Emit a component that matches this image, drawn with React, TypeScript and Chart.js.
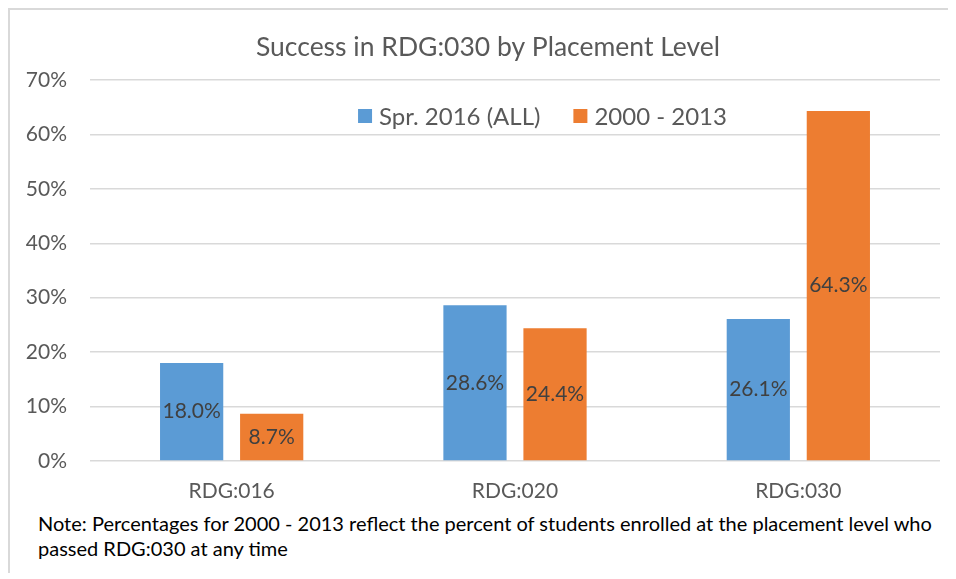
import React, { useEffect, useRef } from "react";
import { Chart, registerables } from "chart.js";

Chart.register(...registerables);

const categories = ["RDG:016", "RDG:020", "RDG:030"];
const seriesNames = ["Spr. 2016 (ALL)", "2000 - 2013"];
const spr2016 = [18.0, 28.6, 26.1];
const y2000_2013 = [8.7, 24.4, 64.3];
const seriesColors = ["#5B9BD5", "#ED7D31"];
const titleText = "Success in RDG:030 by Placement Level";
const noteLines = [
  "Note: Percentages for 2000 - 2013 reflect the percent of students enrolled at the placement level who",
  "passed RDG:030 at any time",
];

const FONT = "Lato, 'Open Sans', sans-serif";

const titlePlugin = {
  id: "customTitle",
  afterDraw(chart: any) {
    const ctx = chart.ctx;
    ctx.save();
    ctx.font = `26.5px ${FONT}`;
    ctx.fillStyle = "#595959";
    ctx.textAlign = "center";
    ctx.textBaseline = "middle";
    ctx.fillText(titleText, 478, 37);
    ctx.restore();
  },
};

const dataLabelPlugin = {
  id: "dataLabels",
  afterDatasetsDraw(chart: any) {
    const ctx = chart.ctx;
    ctx.save();
    ctx.font = `21px ${FONT}`;
    ctx.fillStyle = "#404040";
    ctx.textAlign = "center";
    ctx.textBaseline = "middle";
    chart.data.datasets.forEach((ds: any, di: number) => {
      const meta = chart.getDatasetMeta(di);
      meta.data.forEach((bar: any, i: number) => {
        const v = ds.data[i];
        const y = (bar.y + bar.base) / 2;
        ctx.fillText(v.toFixed(1) + "%", bar.x, y);
      });
    });
    ctx.restore();
  },
};

const legendPlugin = {
  id: "innerLegend",
  afterDraw(chart: any) {
    const ctx = chart.ctx;
    const area = chart.chartArea;
    ctx.save();
    ctx.font = `24px ${FONT}`;
    ctx.textBaseline = "middle";
    ctx.textAlign = "left";
    const box = 14;
    const gapBoxText = 7;
    const gapItems = 33;
    const widths = seriesNames.map((n) => ctx.measureText(n).width);
    const total =
      widths.reduce((a: number, b: number) => a + b, 0) +
      seriesNames.length * (box + gapBoxText) +
      gapItems * (seriesNames.length - 1);
    const cx = area.left + 452.5;
    let x = cx - total / 2;
    const y = area.top + 36;
    seriesNames.forEach((n, i) => {
      ctx.fillStyle = seriesColors[i];
      ctx.fillRect(x, y - box / 2, box, box);
      x += box + gapBoxText;
      ctx.fillStyle = "#595959";
      ctx.fillText(n, x, y + 1);
      x += widths[i] + gapItems;
    });
    ctx.restore();
  },
};

export default function App() {
  const ref = useRef<HTMLCanvasElement>(null);
  useEffect(() => {
    if (!ref.current) return;
    const chart = new Chart(ref.current, {
      type: "bar",
      data: {
        labels: categories,
        datasets: [
          {
            label: seriesNames[0],
            data: spr2016,
            backgroundColor: seriesColors[0],
            categoryPercentage: 0.565,
            barPercentage: 0.79,
          },
          {
            label: seriesNames[1],
            data: y2000_2013,
            backgroundColor: seriesColors[1],
            categoryPercentage: 0.565,
            barPercentage: 0.79,
          },
        ],
      },
      options: {
        responsive: false,
        animation: false,
        layout: { padding: { left: 0, right: 8, top: 70, bottom: 0 } },
        plugins: {
          legend: { display: false },
          tooltip: { enabled: false },
          title: { display: false },
        },
        scales: {
          x: {
            grid: { display: false, drawTicks: false },
            border: { display: false },
            ticks: {
              color: "#595959",
              font: { family: FONT, size: 21 },
              padding: 18,
            },
            afterFit: (s: any) => {
              s.height = 49;
            },
          },
          y: {
            min: 0,
            max: 70,
            grid: { color: "#d9d9d9", lineWidth: 1.5, drawTicks: false },
            border: { display: false },
            ticks: {
              stepSize: 10,
              color: "#595959",
              font: { family: FONT, size: 21 },
              padding: 23,
              callback: (v: any) => v + "%",
            },
            afterFit: (s: any) => {
              s.width = 80;
            },
          },
        },
      },
      plugins: [dataLabelPlugin, legendPlugin, titlePlugin],
    });
    return () => chart.destroy();
  }, []);

  return (
    <div
      style={{
        borderTop: "2px solid #d9d9d9",
        borderLeft: "2px solid #d9d9d9",
        height: 565,
        boxSizing: "border-box",
      }}
    >
      <canvas ref={ref} width={938} height={500} style={{ display: "block" }} />
      <div
        style={{
          marginTop: 1,
          paddingLeft: 28,
          fontFamily: FONT,
          fontSize: 20,
          lineHeight: "25px",
          color: "#000",
          whiteSpace: "nowrap",
        }}
      >
        {noteLines.map((l, i) => (
          <div key={i}>{l}</div>
        ))}
      </div>
    </div>
  );
}
